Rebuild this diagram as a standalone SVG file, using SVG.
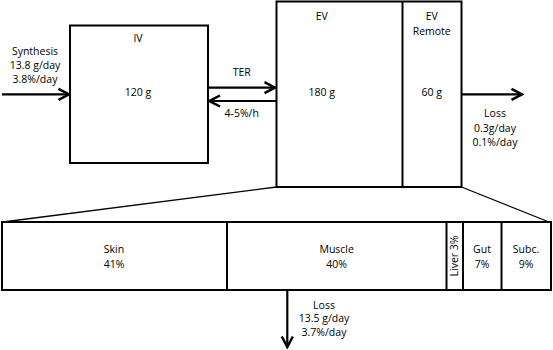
<svg xmlns="http://www.w3.org/2000/svg" width="553" height="350" viewBox="0 0 553 350">
<style>
.box{fill:#fff;stroke:#000;stroke-width:2}
.div{stroke:#000;stroke-width:2}
.thin{stroke:#000;stroke-width:1.3;fill:none}
.arr{stroke:#000;stroke-width:2.2;fill:none;marker-end:url(#ah)}
text{font-family:"Open Sans","Liberation Sans",sans-serif;font-size:10.5px;fill:#000;text-anchor:middle}
</style>
<defs>
<marker id="ah" markerUnits="userSpaceOnUse" markerWidth="14" markerHeight="14" viewBox="0 0 14 14" refX="12" refY="7" orient="auto">
<path d="M1.5,1.5 L12,7 L1.5,12.5" fill="none" stroke="#000" stroke-width="2.5"/>
</marker>
</defs>
<rect width="553" height="350" fill="#fff"/>
<g id="connectors">
<line class="thin" x1="276.5" y1="187" x2="3" y2="222"/>
<line class="thin" x1="461.5" y1="187" x2="549" y2="222"/>
<line class="arr" x1="2" y1="94.3" x2="69" y2="94.3"/>
<line class="arr" x1="209" y1="87.7" x2="275" y2="87.7"/>
<line class="arr" x1="276" y1="101" x2="209.5" y2="101"/>
<line class="arr" x1="462" y1="94.3" x2="522" y2="94.3"/>
<line class="arr" x1="287.3" y1="291" x2="287.3" y2="347"/>
<text x="35" y="55">Synthesis</text>
<text x="35" y="69">13.8 g/day</text>
<text x="35" y="83">3.8%/day</text>
<text x="241.7" y="75.7">TER</text>
<text x="241.7" y="116.7">4-5%/h</text>
<text x="495" y="117">Loss</text>
<text x="495" y="131.7">0.3g/day</text>
<text x="495" y="146.3">0.1%/day</text>
<text x="324" y="309">Loss</text>
<text x="324" y="322.3">13.5 g/day</text>
<text x="324" y="335.5">3.7%/day</text>
</g>
<g id="iv">
<rect class="box" x="70" y="25.5" width="138" height="137.5"/>
<text x="138" y="41.7">IV</text>
<text x="138" y="96">120 g</text>
</g>
<g id="ev">
<rect class="box" x="276.5" y="1.5" width="185" height="185.5"/>
<line class="div" x1="402.5" y1="1.5" x2="402.5" y2="187"/>
<text x="321.7" y="20">EV</text>
<text x="321.7" y="96">180 g</text>
</g>
<g id="ev-remote">
<text x="431.7" y="20">EV</text>
<text x="431.7" y="35">Remote</text>
<text x="431.7" y="96">60 g</text>
</g>
<g id="tissues">
<rect class="box" x="2" y="222" width="549" height="68"/>
<line class="div" x1="227" y1="222" x2="227" y2="290"/>
<line class="div" x1="446.5" y1="222" x2="446.5" y2="290"/>
<line class="div" x1="463" y1="222" x2="463" y2="290"/>
<line class="div" x1="501.5" y1="222" x2="501.5" y2="290"/>
<g id="skin"><text x="114" y="253.3">Skin</text><text x="114" y="267.7">41%</text></g>
<g id="muscle"><text x="336.7" y="253.3">Muscle</text><text x="336.7" y="267.7">40%</text></g>
<g id="liver"><text transform="translate(458.3,256) rotate(-90)" x="0" y="0">Liver 3%</text></g>
<g id="gut"><text x="482" y="253.3">Gut</text><text x="482" y="267.7">7%</text></g>
<g id="subc"><text x="526" y="253.3">Subc.</text><text x="526" y="267.7">9%</text></g>
</g>
</svg>
